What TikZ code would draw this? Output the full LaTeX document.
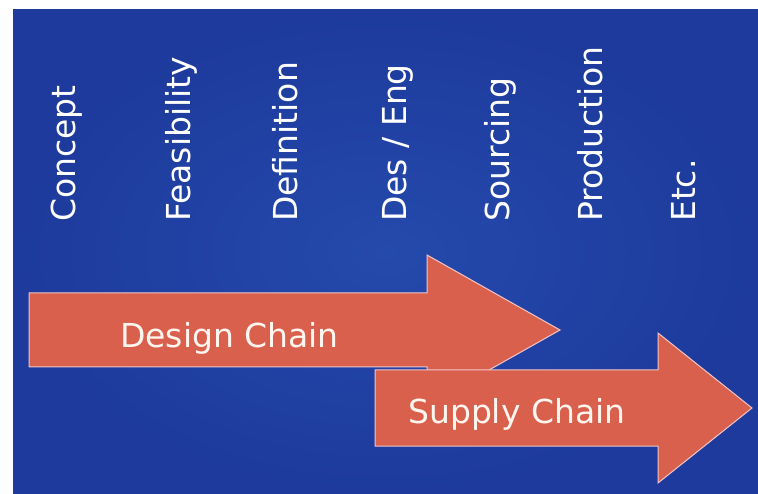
\documentclass[tikz,border=0pt]{standalone}
\usepackage{fontspec}
\setmainfont{DejaVu Sans}
\usepackage{tikz}

\definecolor{slideblue}{RGB}{29,58,156}
\definecolor{slidelight}{RGB}{36,74,172}
\definecolor{chainred}{RGB}{217,96,77}
\definecolor{chainrim}{RGB}{242,198,200}
\definecolor{labelwhite}{RGB}{255,246,240}

\begin{document}
\begin{tikzpicture}[x=1pt,y=-1pt,
  phase/.style={rotate=90,anchor=base west,inner sep=0pt,text=white,
    font=\fontsize{33}{40}\selectfont},
  chain/.style={fill=chainred,draw=chainrim,line width=1pt,line join=miter},
  chainlabel/.style={anchor=base west,inner sep=0pt,text=labelwhite,
    font=\fontsize{33}{40}\selectfont}]

\useasboundingbox (0,0) rectangle (758,494);
\fill[white] (0,0) rectangle (758,494);

% slide background
\shade[inner color=slidelight,outer color=slideblue] (13,10) rectangle (758,494);

% phases along the top
\node[phase] (concept) at (75,222) {Concept};
\node[phase] (feas) at (190,222) {Feasibility};
\node[phase] (defn) at (297,222) {Definition};
\node[phase] (deseng) at (406,222) {Des / Eng};
\node[phase] (sourcing) at (509,222) {Sourcing};
\node[phase] (prod) at (602,222) {Production};
\node[phase] (etc) at (695,222) {Etc.};

% design chain arrow
\draw[chain] (29,293) -- (427,293) -- (427,255) -- (560,330)
  -- (427,405) -- (427,367) -- (29,367) -- cycle;
\node[chainlabel] (design) at (120,348) {Design Chain};

% supply chain arrow
\draw[chain] (375,370) -- (658,370) -- (658,333) -- (752,408)
  -- (658,483) -- (658,446) -- (375,446) -- cycle;
\node[chainlabel] (supply) at (408,423) {Supply Chain};

\end{tikzpicture}
\end{document}
